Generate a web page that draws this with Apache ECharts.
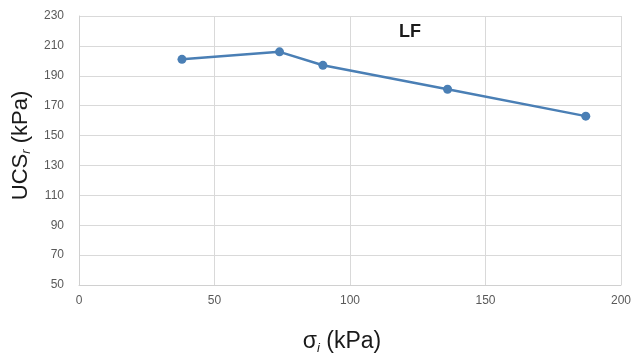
<!DOCTYPE html>
<html>
<head>
<meta charset="utf-8">
<script src="https://cdn.jsdelivr.net/npm/echarts@6/dist/echarts.min.js"></script>
<style>
  html, body { margin: 0; padding: 0; background: #fff; }
  #main { width: 633px; height: 356px; }
</style>
</head>
<body>
<div id="main"></div>
<script>
// sigma_i (kPa) and UCS_r (kPa)
var sigmaI = [38, 74, 90, 136, 187];
var ucsR = [201, 206, 197, 181, 163];
var xTicks = [0, 50, 100, 150, 200];
var yTicks = [50, 70, 90, 110, 130, 150, 170, 190, 210, 230];

var myChart = echarts.init(document.getElementById('main'));

var points = sigmaI.map(function (x, i) { return [x, ucsR[i]]; });

var option = {
    animation: false,
    title: {
        text: 'LF',
        left: 405,
        top: 18,
        textAlign: 'center',
        textStyle: { fontFamily: 'Liberation Sans', fontSize: 18, fontWeight: 'bold', color: '#1a1a1a' }
    },
    grid: { left: 79, right: 12, top: 16, bottom: 71, outerBoundsMode: 'none' },
    xAxis: {
        type: 'value',
        min: xTicks[0],
        max: xTicks[xTicks.length - 1],
        interval: 50,
        axisLine: { show: true, lineStyle: { color: '#d0d0d0' } },
        axisTick: { show: false },
        splitLine: { show: true, lineStyle: { color: '#d9d9d9' } },
        axisLabel: { color: '#595959', fontFamily: 'Liberation Sans', fontSize: 12, margin: 10 },
        name: '{g|σ}{s|i}{g| (kPa)}',
        nameLocation: 'middle',
        nameGap: 44,
        nameTextStyle: {
            padding: [0, 16, 0, 0],
            rich: {
                g: { fontFamily: 'Liberation Sans', fontSize: 23, color: '#1a1a1a' },
                s: { fontFamily: 'Liberation Sans', fontSize: 13, color: '#1a1a1a', fontStyle: 'italic', padding: [13, 0, 0, 0] }
            }
        }
    },
    yAxis: {
        type: 'value',
        min: yTicks[0],
        max: yTicks[yTicks.length - 1],
        interval: 20,
        axisLine: { show: true, lineStyle: { color: '#d0d0d0' } },
        axisTick: { show: false },
        splitLine: { show: true, lineStyle: { color: '#d9d9d9' } },
        axisLabel: { color: '#595959', fontFamily: 'Liberation Sans', fontSize: 12, margin: 15 },
        name: '{g|UCS}{s|r}{g| (kPa)}',
        nameLocation: 'middle',
        nameRotate: 90,
        nameGap: 46,
        nameTextStyle: {
            padding: [0, 0, 0, 10],
            rich: {
                g: { fontFamily: 'Liberation Sans', fontSize: 22, color: '#1a1a1a' },
                s: { fontFamily: 'Liberation Sans', fontSize: 13, color: '#1a1a1a', fontStyle: 'italic', padding: [12, 0, 0, 0] }
            }
        }
    },
    series: [{
        type: 'line',
        data: points,
        symbol: 'circle',
        symbolSize: 9,
        lineStyle: { color: '#4a7fb5', width: 2.5 },
        itemStyle: { color: '#4a7fb5' }
    }]
};

option && myChart.setOption(option);
</script>
</body>
</html>
